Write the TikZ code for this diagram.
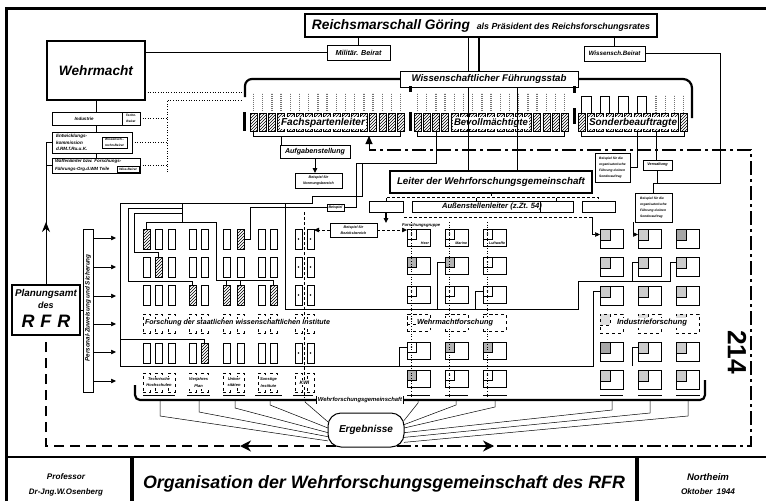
\documentclass[tikz,border=0pt]{standalone}
\usepackage{fontspec}
\setmainfont{Liberation Sans}
\usepackage{graphicx}
\usetikzlibrary{patterns,arrows.meta}
\newcommand\myfs[1]{\fontsize{#1}{#1}\selectfont}
\newcommand\fitw[2]{\resizebox{#1}{!}{#2}}
\newcommand\cbox[7]{\node[#6,minimum width={(#4-#2)*1pt},minimum height={(#5-#3)*1pt}] (#1) at ({(#2+#4)/2},{(#3+#5)/2}) {#7};}
\begin{document}
\begin{tikzpicture}[x=1pt,y=-1pt,
  every node/.style={inner sep=0pt,outer sep=0pt,font=\bfseries\itshape},
  bx/.style={draw,line width=0.7pt,fill=white},
  tbx/.style={draw,line width=2.4pt,fill=white},
  ln/.style={line width=0.5pt},
  mln/.style={line width=0.9pt},
  thk/.style={line width=2.2pt},
  dotl/.style={line width=0.6pt,dotted},
  ddl/.style={line width=2.4pt,dash pattern=on 14pt off 4pt on 3pt off 4pt},
  dshl/.style={line width=2.4pt,dash pattern=on 10pt off 6pt},
  scell/.style={draw,line width=0.6pt,minimum width=7pt,minimum height=20pt},
  wcell/.style={draw,line width=0.6pt,minimum width=23pt,minimum height=17pt},
  icell/.style={draw,line width=0.6pt,minimum width=23pt,minimum height=19pt},
  sq/.style={draw,line width=0.5pt,minimum width=10pt,minimum height=11pt,anchor=north west},
  tcell/.style={draw,line width=0.6pt,minimum width=7pt,minimum height=18pt,pattern=north east lines},
  stem/.style={line width=1.3pt,black!55,dash pattern=on 1.3pt off 0.7pt},
  tt/.style={font=\bfseries\itshape\myfs{3.6}},
  arr/.style={-{Triangle[length=5pt,width=4.5pt]}},
  lab/.style={fill=white,inner sep=1.2pt},
]
\useasboundingbox (0,0) rectangle (766,501);
\fill[white] (0,0) rectangle (766,501);
% frame and title strip
\draw[line width=3pt] (6,501) -- (6,8) -- (766,8);
\draw[line width=2.5pt] (6,457) -- (766,457);
\draw[line width=4.5pt] (132,457) -- (132,501) (637,457) -- (637,501);

% ---------- top boxes
\cbox{rm}{305}{14}{657}{37}{tbx}{\fitw{338pt}{\myfs{14}Reichsmarschall Göring\enspace{\myfs{9}als Präsident des Reichsforschungsrates}}}
\cbox{mb}{327}{45}{390}{60}{bx}{\fitw{46pt}{\myfs{6}Militär. Beirat}}
\cbox{wb}{584}{46}{645}{61}{bx}{\fitw{52pt}{\myfs{6}Wissensch.Beirat}}
\cbox{wfs}{400}{71}{578}{87}{bx,line width=1pt}{\fitw{155pt}{\myfs{11}Wissenschaftlicher Führungsstab}}

% ---------- left column
\cbox{wm}{47}{41}{145}{100}{tbx}{\fitw{74pt}{\myfs{14}Wehrmacht}}
\cbox{ind}{52}{112}{140}{125}{bx}{}
\node (indt) at (84,118.5) {\myfs{4.5}Industrie};
\cbox{indb}{122}{112}{140}{125}{bx}{\myfs{3.2}\shortstack{Techn.\\Beirat}}
\cbox{ent}{52}{132}{132}{153}{bx}{}
\node[anchor=west] (entt) at (56,142.5) {\myfs{4.6}\shortstack[l]{Entwicklungs-\\kommission\\d.RM.f.Ru.u.K.}};
\cbox{entb}{102}{137}{127}{148}{bx}{\myfs{3.2}\shortstack{Wissensch.-\\techn.Beirat}}
\cbox{waf}{52}{158}{140}{173}{bx}{}
\node[anchor=west] (waft) at (55,165.5) {\fitw{80pt}{\myfs{4}\shortstack[l]{Waffenämter bzw. Forschungs-\\Führungs-Org.d.WM Teile\phantom{Wiss.Beirat.}}}};
\cbox{wafb}{117}{166}{139}{172}{bx}{\myfs{3.2}Wiss.Beirat}

\draw[mln] (wm.south) -- (wm.south |- ind.north);
\draw[mln] (wm.south |- ind.south) -- (wm.south |- ent.north);
\draw[mln] (wm.south |- ent.south) -- (wm.south |- waf.north);
\coordinate (dA) at (243,92);
\coordinate (dB) at (243,100);
\coordinate (dC) at (167,172);
\draw[dotl] (wm.east |- dA) -- (dA);
\draw[dotl] (dC) |- (dB);
\draw[dotl] (ind.east) -- (ind.east -| dC);
\draw[dotl] (ent.east) -- (ent.east -| dC);
\draw[dotl] (waf.east) -- (waf.east -| dC);

% ---------- Planungsamt and Personal
\cbox{pa}{12}{285}{80}{335}{tbx}{}
\node (pat1) at (46,294) {\fitw{62pt}{\myfs{9}Planungsamt}};
\node (pat2) at (46,305) {\myfs{9}des};
\node (pat3) at (46,321) {\myfs{18}R\,\,F\,\,R};
\cbox{pers}{83}{229}{93}{392}{bx}{}
\node[rotate=90] (perst) at (88,308) {\fitw{107pt}{\myfs{6}Personal-Zuweisung und Sicherung}};
\draw[mln] (pa.east) -- (pa.east -| pers.west);
\foreach \ya in {238,267,296,324,352,381} {
  \coordinate (pr\ya) at (116,\ya);
  \draw[ln,arr] (pers.east |- pr\ya) -- (pr\ya);
}
\draw[mln] (pa.north) |- (ent.west);
\draw[mln] (pa.north |- waf.west) -- (waf.west);
\path (pa.north) ++(0,-55) coordinate (pa1);
\draw[line width=1pt,-{Stealth[length=10pt,width=8pt]}] (pa1) -- ++(0,-8);

% ---------- top row of hatched boxes
\foreach \i in {0,...,16} {
  \draw[stem] ({253.5+9.2*\i},111) -- ({253.5+9.2*\i},93);
  \draw[stem] ({417.5+9.2*\i},111) -- ({417.5+9.2*\i},93);
  \node[tcell] (f\i) at ({253.5+9.2*\i},122) {};
  \node[tcell] (b\i) at ({417.5+9.2*\i},122) {};
}
\foreach \i in {0,...,11} {
  \node[tcell] (s\i) at ({581.5+9.3*\i},122) {};
}
\foreach \i/\j in {0/1,2/3,4/5,6/7} { \draw[ln] (s\i.north) -- ++(0,-17) -| (s\j.north); }
\foreach \i in {8,...,11} { \draw[stem] (s\i.north) -- ++(0,-18); }
\fill (242.5,112) rectangle (245.5,131);
\fill (408.5,112) rectangle (411.5,131);
\fill (408.5,86) rectangle (411.5,92);
\fill (572.5,108) rectangle (575.5,124);
\fill (572.5,86) rectangle (575.5,93);
\node[lab] (fsl) at (323,123) {\fitw{84pt}{\myfs{10}Fachspartenleiter}};
\node[lab] (bev) at (491,123) {\fitw{74pt}{\myfs{10}Bevollmächtigte}};
\node[lab] (sob) at (633,123) {\fitw{88pt}{\myfs{10}Sonderbeauftragte}};
\draw[ln] (f0.south) -- ++(0,5) -| (f16.south);
\draw[ln] (b0.south) -- ++(0,5) -| (b16.south);
\draw[ln] (s0.south) -- ++(0,5) -| (s11.south);
\coordinate (brL) at (245,97);
\coordinate (brR) at (692,118);
\draw[thk,rounded corners=7pt] (wfs.west) -| (brL);
\draw[thk,rounded corners=9pt] (wfs.east) -| (brR);

% ---------- middle boxes
\cbox{auf}{280}{145}{350}{158}{bx}{\fitw{60pt}{\myfs{8}Aufgabenstellung}}
\cbox{bnb}{295}{173}{342}{188}{bx}{\myfs{3.6}\shortstack{Beispiel für\\Normungsbereich}}
\cbox{lwg}{390}{171}{592}{193}{tbx}{\fitw{188pt}{\myfs{13}Leiter der Wehrforschungsgemeinschaft}}
\cbox{aus1}{369}{201}{403}{212}{bx}{}
\cbox{aus2}{412}{201}{540}{212}{bx}{}
\cbox{aus3}{540}{201}{573}{212}{bx}{}
\cbox{aus4}{582}{201}{615}{212}{bx}{}
\node (aust) at (492,206.5) {\fitw{100pt}{\myfs{8}Außenstellenleiter (z.Zt. 54)}};
\cbox{bsp}{327}{204}{344}{211}{bx}{\myfs{3.6}Beispiel}
\cbox{bzb}{330}{223}{377}{237}{bx}{\myfs{3.6}\shortstack{Beispiel für\\Bezirksbereich}}
\cbox{sb1}{595}{153}{630}{182}{bx}{\myfs{3.3}\shortstack[l]{Beispiel für die\\organisatorische\\Führung d.einen\\Sonderauftrag}}
\cbox{vw}{643}{160}{672}{170}{bx}{\myfs{3.8}Verwaltung}
\cbox{sb2}{635}{193}{672}{222}{bx}{\myfs{3.3}\shortstack[l]{Beispiel für die\\organisatorische\\Führung d.einen\\Sonderauftrag}}

\draw[ln] (f3.south) ++(0,5) -- (f3.south |- auf.north);
\draw[mln,arr] (auf.south) -- (auf.south |- bnb.north);
\coordinate (x468) at (468,0);
\coordinate (x479) at (479,0);
\coordinate (x517) at (517,0);
\draw[mln] (rm.south -| x468) -- (wfs.north -| x468);
\draw[mln] (wfs.south -| x468) -- (lwg.north -| x468);
\draw[line width=2pt] (rm.south -| x479) -- (wfs.north -| x479);
\draw[mln] (wfs.south -| x517) -- (lwg.north -| x517);
\draw[ln] (mb.north) -- (mb.north |- rm.south);
\draw[ln] (mb.west) -- (mb.west -| wm.east);
\draw[ln] (wb.north) -- (wb.north |- rm.south);
\coordinate (wr) at (720,183);
\draw[ln] (wb.east) -| (wr) -| (sb2.north);
\draw[ln] (vw.south) -- (vw.south |- wr);
\draw[ln] (s6.south) |- (sb1.east);
\draw[ln] (s8.south) -- (s8.south |- vw.north);
\draw[ln,densely dashed] (lwg.south) -- ++(0,4);
\draw[ln,densely dashed] (aus1.north) -- ++(0,-4) -| (aus4.north);
\draw[ln,densely dashed] (aus2.north) -- ++(0,-4);
\draw[ln,densely dashed] (aus3.north) -- ++(0,-4);
\draw[line width=1.2pt,arr] (aus1.south) -- (aus1.south |- bzb.north);

% ---------- institutes grid
\foreach \xa [count=\ci] in {143,155,168,189,201,223,237,258,270,295,307} {
  \foreach \ya/\ri in {229/1,257/2,285/3,343/5} { \node[scell] (st-\ci-\ri) at (\xa+3.5,\ya+10) {}; }
  \node[scell,dashed,minimum height=19pt] (st-\ci-4) at (\xa+3.5,323.5) {};
  \node[scell,dashed,minimum height=19pt] (st-\ci-6) at (\xa+3.5,382.5) {};
}
\foreach \ci/\ri in {1/1,7/1,2/2,4/3,6/3,7/3,9/3,5/5} {
  \draw[line width=0.6pt,pattern=north east lines] (st-\ci-\ri.south west) rectangle (st-\ci-\ri.north east);
}
\foreach \ci in {10,11} { \foreach \ri in {1,2,3,5} { \fill (st-\ci-\ri.center) circle (0.8pt); } }
\draw[ln,densely dashed] (304.5,212) -- (304.5,398);
\node[lab] (fsi) at (237.5,323) {\fitw{185pt}{\myfs{9}Forschung der staatlichen wissenschaftlichen Institute}};
\node[lab] (th) at (159,382.5) {\myfs{4}\shortstack{Technische\\Hochschulen}};
\node[lab] (vjp) at (198.5,382.5) {\myfs{4}\shortstack{Vierjahres\\Plan}};
\node[lab] (uni) at (234,382.5) {\myfs{4}\shortstack{Univer\\sitäten}};
\node[lab] (son) at (268.5,382.5) {\myfs{4}\shortstack{Sonstige\\Institute}};
\node[lab] (kwi) at (304.5,382.5) {\myfs{5}KWI};

% ---------- Wehrmacht grid
\foreach \xa [count=\ci] in {407,445,483} {
  \foreach \ya/\ri in {229/1,257/2,286/3,342/5,370/6} {
    \node[wcell] (wc-\ci-\ri) at (\xa+11.5,\ya+8.5) {};
    \node[sq,minimum width=9pt,minimum height=10pt] (wq-\ci-\ri) at (wc-\ci-\ri.north west) {};
  }
  \node[wcell,dashed] (wc-\ci-4) at (\xa+11.5,322.5) {};
  \node[sq,dashed,minimum width=9pt,minimum height=10pt] (wq-\ci-4) at (wc-\ci-4.north west) {};
}
\foreach \ci/\ri in {1/2,2/2,2/5,3/5,1/6} {
  \draw[line width=0.5pt,fill=gray!60] (wq-\ci-\ri.south west) rectangle (wq-\ci-\ri.north east);
}
\foreach \ci/\ri in {1/1,2/1,3/1,3/2,1/3,2/3,3/3,1/4,1/5,2/6,3/6} { \fill (wq-\ci-\ri.center) circle (0.8pt); }
\foreach \ci in {1,2,3} { \draw[dotl] (wq-\ci-1.north) ++(0,-7) -- (wq-\ci-6.south) -- ++(0,18); }
\node[tt,anchor=south east,inner sep=1pt] (heer) at (wc-1-1.south east) {Heer};
\node[tt,anchor=south east,inner sep=1pt] (mar) at (wc-2-1.south east) {Marine};
\node[tt,anchor=south east,inner sep=1pt] (luf) at (wc-3-1.south east) {Luftwaffe};
\node[anchor=south west] (fgr) at (402,227) {\myfs{4.2}Forschungsgruppe};
\node[lab] (wmf) at (455,323) {\fitw{76pt}{\myfs{9}Wehrmachtforschung}};

% ---------- Industrie grid
\foreach \xa [count=\ci] in {600,638,676} {
  \foreach \ya/\ri in {229/1,257/2,286/3,342/5,370/6} {
    \node[icell] (ic-\ci-\ri) at (\xa+11.5,\ya+9.5) {};
    \node[sq,fill=gray!40] (iq-\ci-\ri) at (ic-\ci-\ri.north west) {};
  }
  \node[icell,dashed] (ic-\ci-4) at (\xa+11.5,323.5) {};
  \node[sq,dashed,fill=gray!25] (iq-\ci-4) at (ic-\ci-4.north west) {};
}
\foreach \ci/\ri in {3/1,1/5} {
  \draw[line width=0.5pt,fill=gray!70] (iq-\ci-\ri.south west) rectangle (iq-\ci-\ri.north east);
}
\node[lab] (inf) at (652,323) {\fitw{70pt}{\myfs{9}Industrieforschung}};

% ---------- wiring inside the research field
\draw[ln] (120,366) -- (120,203) -- (312,203) -- (312,196) -- (362,196) -- (362,163);
\draw[ln] (182,203) -- (182,222) -| (st-1-1.north);
\draw[ln] (182,222) -- (216,222) -- (216,280) -| (st-9-3.north);
\draw[ln] (st-6-3.north) -- ++(0,-5);
\draw[ln] (st-7-3.north) -- ++(0,-5);
\draw[ln] (182,208) -- (128,208) -- (128,281) -| (st-4-3.north);
\draw[ln] (182,213) -- (134,213) -- (134,252) -| (st-2-2.north);
\draw[ln] (120,339) -| (st-5-5.north);
\coordinate (a2) at (250,239);
\draw[ln] (bsp.west) -| (a2) -- (st-7-1.east);
\coordinate (a1) at (356,163);
\draw[ln] (bsp.east) -| (a1) -| (b2.south);
\draw[ln] (285,203) -- (285,309) -- (578,309) -- (578,281) -- (670,281) |- (iq-3-2.west);
\draw[ln] (632,281) |- (iq-2-2.west);
\draw[ln] (437,309) |- (wq-2-2.west);
\draw[ln] (475,309) |- (wq-3-3.west);
\draw[ln] (120,366) -- (593,366) |- (iq-1-3.west);
\draw[ln] (399,366) |- (wq-1-5.west);
\draw[ln] (632,366) |- (iq-2-5.west);
\draw[ln,densely dashed,arr] (bzb.west) -- (bzb.west -| st-11-1.east);
\draw[ln,densely dashed,arr] (bzb.east) -- (bzb.east -| wq-1-1.west);
\coordinate (h1) at (404,217);
\coordinate (h2) at (592,217);
\draw[ln,densely dashed] (h1) -- (h2);
\draw[ln,arr] (h2) |- (iq-1-1.west);
\draw[ln,arr] (sb2.south west) ++(-2,0) |- (iq-2-1.west);

% ---------- bottom bracket and results
\draw[thk,rounded corners=5pt] (135,385) |- (705,400) -- (705,380);
\node[lab,inner sep=1.5pt] (wfg) at (360,400) {\fitw{84pt}{\myfs{5}Wehrforschungsgemeinschaft}};
\draw[ln] (wfg.north west) -- (wfg.south west);
\draw[ln] (wfg.north east) -- (wfg.south east);
\foreach \xa/\xb in {143/175,187/210,223/245,255/282,293/313,407/430,445/468,483/507,600/623,638/662,676/700} { \draw[ln] (\xa,395) -- (\xb,395); }
\node[draw,line width=1pt,rounded corners=13pt,minimum width=76pt,minimum height=34pt,fill=white] (erg) at (366,430) {\fitw{54pt}{\myfs{12}Ergebnisse}};
\foreach \xa/\yb/\ang in {160/416/196,199/412/190,235/408/184,270/405/177,305/402/168} { \draw[ln] (\xa,401) -- (\xa,\yb) -- (erg.\ang); }
\foreach \xa/\yb/\ang in {418/403/14,456/405/8,495/407/3,612/410/-4,650/413/-11,688/416/-18} { \draw[ln] (\xa,401) -- (\xa,\yb) -- (erg.\ang); }

% ---------- feedback loops
\coordinate (dd0) at (369,150);
\coordinate (cR) at (751,150);
\coordinate (eL) at (336,446);
\coordinate (eR) at (397,446);
\draw[ddl] (eR) -| (cR) -- (dd0);
\draw[mln,-{Triangle[length=8pt,width=7pt]}] (dd0) -- ++(0,-14);
\draw[dshl] (eL) -| (pa.south);
\draw[line width=2.4pt,-{Stealth[length=11pt,width=11pt]}] (262,446) -- (240,446);
\draw[line width=2.4pt,-{Stealth[length=11pt,width=11pt]}] (472,446) -- (494,446);

% ---------- stamp and title strip
\node[rotate=-90] (n214) at (737,352) {\fitw{44pt}{\myfs{20}\upshape 214}};
\node (prof) at (66,477) {\fitw{38pt}{\myfs{7}Professor}};
\node (osb) at (66,492) {\fitw{74pt}{\myfs{7}Dr-Jng.W.Osenberg}};
\node (ttl) at (384,484) {\fitw{482pt}{\myfs{20}Organisation der Wehrforschungsgemeinschaft des RFR}};
\node (nth) at (708,477) {\fitw{42pt}{\myfs{7}Northeim}};
\node (okt) at (708,492) {\fitw{54pt}{\myfs{7}Oktober\enspace 1944}};
\end{tikzpicture}
\end{document}
